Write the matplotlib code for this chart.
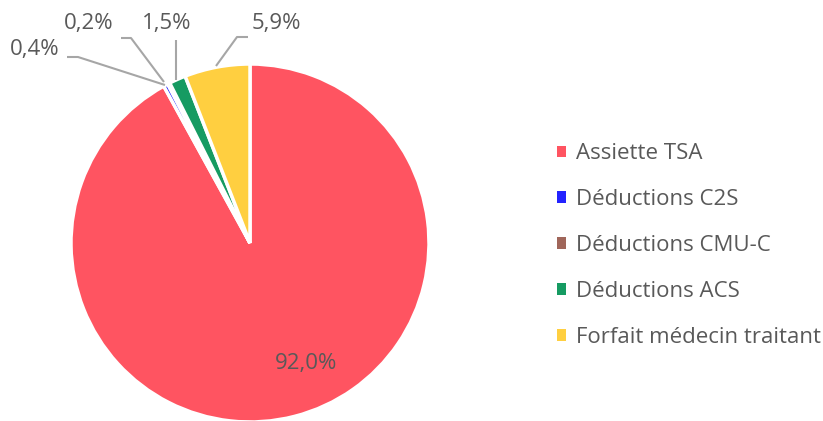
import matplotlib
matplotlib.use("Agg")
import matplotlib.pyplot as plt
from matplotlib.patches import Patch

plt.rcParams["font.family"] = ["Open Sans", "DejaVu Sans"]

# data
categories = ["Assiette TSA", "Déductions C2S", "Déductions CMU-C",
              "Déductions ACS", "Forfait médecin traitant"]
values = [92.0, 0.4, 0.2, 1.5, 5.9]
value_labels = ["92,0%", "0,4%", "0,2%", "1,5%", "5,9%"]
colors = ["#FF5461", "#2323FF", "#A0665A", "#169B62", "#FFCF40"]

TXT = "#595959"
LINE = "#A6A6A6"
W, H = 823, 421

fig = plt.figure(figsize=(W / 100, H / 100), dpi=100)
ax = fig.add_axes([0, 0, 1, 1])

cx, cy, r = 250, H - 243, 179
wedges, _ = ax.pie(values, colors=colors, startangle=90, counterclock=False,
                   center=(cx, cy), radius=r, frame=True,
                   wedgeprops=dict(edgecolor="white", linewidth=2.5))
ax.set_xlim(0, W)
ax.set_ylim(0, H)
ax.set_aspect("equal")
ax.axis("off")

# big slice label inside
ax.text(306, H - 364, value_labels[0], ha="center", va="center",
        fontsize=16, color=TXT)

# outside labels with leader lines (pixel positions, y from top)
outside = [
    (1, (35, 50), [(67, 57), (78, 57), (165, 85)]),
    (2, (89, 24), [(121, 38), (131, 38), (164, 82)]),
    (3, (167, 24), [(176, 40), (176, 80)]),
    (4, (276, 24), [(248, 37), (237, 37), (216, 66)]),
]
for idx, (tx, ty), pts in outside:
    ax.text(tx, H - ty, value_labels[idx], ha="center", va="center",
            fontsize=16, color=TXT)
    xs = [p[0] for p in pts]
    ys = [H - p[1] for p in pts]
    ax.plot(xs, ys, color=LINE, lw=1.5, solid_capstyle="butt")

handles = [Patch(facecolor=c, edgecolor="none") for c in colors]
leg = ax.legend(handles, categories, loc="center left",
                bbox_to_anchor=(557 / W, 1 - 245.5 / H), frameon=False,
                borderpad=0, borderaxespad=0,
                fontsize=16, labelspacing=1.12, handlelength=0.41,
                handleheight=0.41, handletextpad=0.45, labelcolor=TXT)

fig.savefig("out.png", dpi=100, facecolor="white")
